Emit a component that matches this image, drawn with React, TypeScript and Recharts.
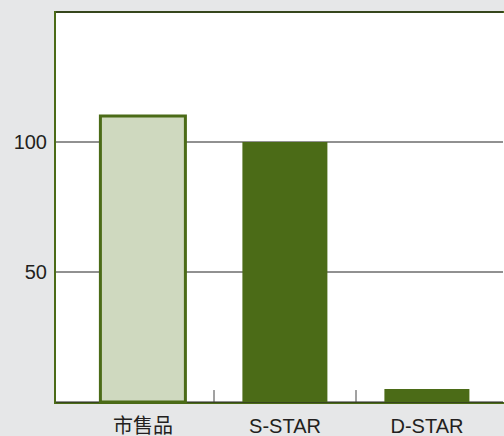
import { BarChart, Bar, XAxis, YAxis, CartesianGrid, Cell, ReferenceLine } from 'recharts';

const categories = ['市售品', 'S-STAR', 'D-STAR'];
const values = [110, 100, 5];
const yTicks = [50, 100];
const separators = [1, 2];

const DARK = '#4b6b17';
const LIGHT = '#cfd9bf';
const BG = '#e6e7e8';
const FONT = "'Liberation Sans', Arial, 'Noto Sans CJK SC', sans-serif";

const data = categories.map((name, i) => ({ name, value: values[i], pos: i + 0.5 }));

export default function App() {
  return (
    <div style={{ position: 'fixed', left: 0, top: 0, width: 504, height: 436, background: BG, overflow: 'hidden' }}>
      {/* plot frame */}
      <div
        style={{
          position: 'absolute',
          left: 54,
          top: 11,
          width: 452,
          height: 393,
          boxSizing: 'border-box',
          border: `2.5px solid ${DARK}`,
          background: '#fff',
        }}
      />
      <div style={{ position: 'absolute', left: 0, top: 0 }}>
        <BarChart
          width={504}
          height={436}
          data={data}
          margin={{ top: 12, right: 1, left: 0, bottom: 0 }}
          barCategoryGap="20%"
        >
          <CartesianGrid horizontal vertical={false} stroke="#222" strokeWidth={1} />
          <XAxis
            dataKey="name"
            height={34}
            padding={{ left: 16, right: 5 }}
            axisLine={false}
            tickLine={false}
            tickSize={0}
            tickMargin={17}
            tick={{ fontSize: 20, fill: '#231f20', fontFamily: FONT }}
          />
          <XAxis
            xAxisId="sep"
            dataKey="pos"
            type="number"
            domain={[0, 3]}
            allowDataOverflow
            padding={{ left: 16, right: 5 }}
            hide
          />
          <YAxis
            width={56}
            domain={[0, 150]}
            ticks={yTicks}
            axisLine={false}
            tickLine={false}
            tickSize={0}
            tickMargin={9}
            tick={{ fontSize: 20, fill: '#231f20', fontFamily: FONT }}
          />
          {separators.map(s => (
            <ReferenceLine
              key={s}
              xAxisId="sep"
              segment={[{ x: s, y: 0 }, { x: s, y: 4.6 }]}
              stroke="#444"
              strokeWidth={1}
            />
          ))}
          <Bar dataKey="value" isAnimationActive={false}>
            {data.map((d, i) => (
              <Cell
                key={d.name}
                fill={i === 0 ? LIGHT : DARK}
                stroke={i === 0 ? DARK : 'none'}
                strokeWidth={i === 0 ? 3 : 0}
              />
            ))}
          </Bar>
        </BarChart>
      </div>
    </div>
  );
}
